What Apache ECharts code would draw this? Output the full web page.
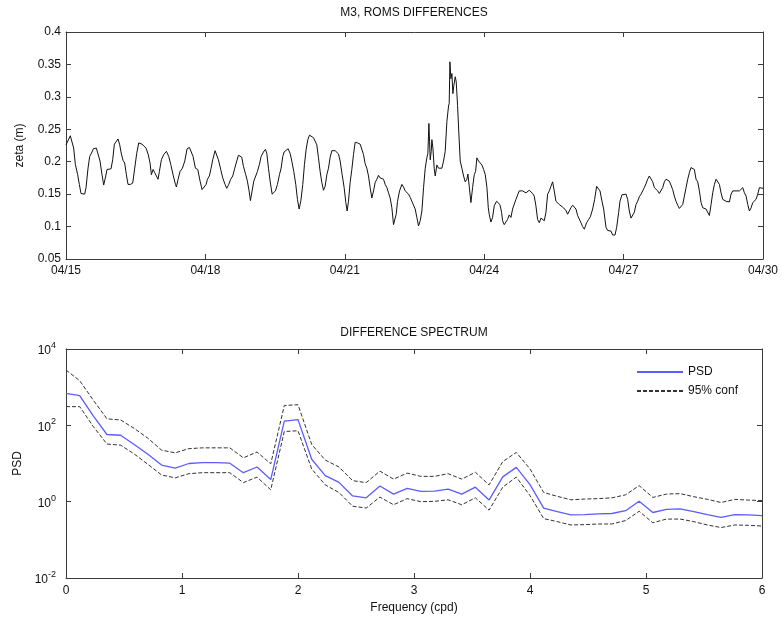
<!DOCTYPE html>
<html><head><meta charset="utf-8">
<script src="https://cdn.jsdelivr.net/npm/echarts@6/dist/echarts.min.js"></script>
<style>html,body{margin:0;padding:0;background:#fff}#c{width:782px;height:623px}</style>
</head><body><div id="c"></div>
<script>
const dateLabels = ['04/15','04/18','04/21','04/24','04/27','04/30'];
const freqTicks = [0,1,2,3,4,5,6];

const zetaDays = [
0.000,0.093,0.165,0.201,0.251,0.287,0.323,0.366,0.402,0.431,0.474,0.510,0.560,0.589,0.625,0.653,0.689,0.732,0.775,0.811,0.847,0.883,0.919,0.969,
1.005,1.041,1.084,1.120,1.156,1.192,1.228,1.263,1.299,1.335,1.385,1.436,1.479,1.522,1.565,1.608,1.637,1.673,1.723,1.766,1.809,1.838,1.874,1.910,1.945,1.981,
2.010,2.053,2.103,2.161,2.211,2.254,2.304,2.355,2.376,2.412,2.455,2.505,2.556,2.606,2.656,2.699,2.735,2.785,2.836,2.886,2.929,2.972,
3.015,3.044,3.086,3.122,3.158,3.208,3.244,3.280,3.330,3.373,3.423,3.459,3.502,3.545,3.588,3.632,3.675,3.711,3.746,3.782,3.818,3.868,3.904,3.940,3.969,
4.005,4.041,4.084,4.120,4.163,4.199,4.249,4.292,4.321,4.357,4.393,4.436,4.464,4.507,4.550,4.594,4.629,4.665,4.694,4.737,4.780,4.823,4.859,4.902,4.945,4.981,
5.017,5.053,5.096,5.132,5.168,5.204,5.240,5.276,5.326,5.362,5.398,5.433,5.469,5.505,5.541,5.577,5.613,5.649,5.685,5.721,5.757,5.793,5.828,5.864,5.900,5.943,5.986,
6.022,6.051,6.079,6.115,6.151,6.187,6.223,6.273,6.331,6.367,6.403,6.438,6.474,6.510,6.546,6.582,6.618,6.654,6.690,6.726,6.761,6.797,6.833,6.869,6.905,6.941,6.977,
7.013,7.049,7.070,7.106,7.135,7.178,7.228,7.264,7.300,7.336,7.372,7.408,7.443,7.479,7.515,7.551,7.587,7.623,7.659,7.695,7.731,7.766,7.788,7.810,7.824,7.838,7.860,7.874,7.896,7.924,7.946,7.982,
8.018,8.054,8.090,8.125,8.161,8.197,8.233,8.247,8.262,8.283,8.305,8.326,8.348,8.377,8.398,8.427,8.456,8.484,8.520,8.556,8.592,8.628,8.649,8.678,8.714,8.750,8.786,8.815,8.843,8.879,8.915,8.951,8.987,
9.023,9.059,9.088,9.108,9.144,9.180,9.216,9.266,9.309,9.338,9.374,9.396,9.431,9.467,9.503,9.539,9.575,9.611,9.647,9.683,9.719,9.754,9.790,9.826,9.862,9.898,9.934,9.970,
10.006,10.042,10.077,10.113,10.149,10.185,10.221,10.257,10.293,10.329,10.365,10.401,10.436,10.472,10.508,10.544,10.580,10.616,10.652,10.688,10.724,10.759,10.795,10.831,10.867,10.903,10.939,10.975,
11.011,11.047,11.082,11.118,11.154,11.176,11.205,11.248,11.284,11.334,11.377,11.420,11.456,11.492,11.535,11.571,11.621,11.657,11.693,11.729,11.764,11.815,11.851,11.894,11.922,11.965,
12.001,12.052,12.087,12.123,12.159,12.195,12.231,12.267,12.303,12.339,12.375,12.410,12.446,12.482,12.518,12.554,12.590,12.626,12.662,12.698,12.734,12.769,12.805,12.841,12.877,12.913,12.949,12.985,
13.021,13.057,13.092,13.128,13.164,13.200,13.236,13.272,13.308,13.344,13.380,13.415,13.451,13.487,13.523,13.559,13.595,13.631,13.667,13.703,13.739,13.774,13.810,13.846,13.882,13.918,13.954,13.990,
14.026,14.062,14.097,14.133,14.169,14.205,14.241,14.277,14.313,14.349,14.385,14.420,14.456,14.492,14.528,14.564,14.600,14.636,14.672,14.708,14.744,14.780,14.815,14.851,14.887,14.923,14.959,15.000
];
const zetaValues = [
0.226,0.240,0.221,0.196,0.180,0.165,0.151,0.148,0.150,0.160,0.190,0.208,0.215,0.220,0.217,0.221,0.212,0.201,0.180,0.164,0.175,0.188,0.190,0.189,
0.203,0.227,0.230,0.235,0.226,0.212,0.202,0.198,0.180,0.165,0.165,0.167,0.190,0.213,0.229,0.226,0.227,0.230,0.221,0.212,0.198,0.180,0.188,0.183,0.180,0.173,
0.185,0.203,0.211,0.216,0.208,0.196,0.180,0.165,0.161,0.173,0.185,0.190,0.201,0.220,0.222,0.225,0.208,0.190,0.188,0.170,0.157,0.155,
0.165,0.173,0.178,0.190,0.203,0.217,0.215,0.203,0.188,0.175,0.165,0.159,0.165,0.173,0.178,0.190,0.201,0.210,0.208,0.207,0.193,0.180,0.170,0.155,0.140,
0.155,0.170,0.171,0.185,0.196,0.208,0.215,0.219,0.213,0.190,0.170,0.150,0.148,0.155,0.165,0.180,0.190,0.208,0.215,0.216,0.220,0.213,0.201,0.185,0.165,0.142,
0.127,0.139,0.165,0.196,0.219,0.234,0.241,0.240,0.237,0.236,0.226,0.206,0.185,0.168,0.156,0.162,0.180,0.190,0.207,0.217,0.219,0.217,0.220,0.212,0.201,0.180,0.160,
0.137,0.124,0.139,0.168,0.188,0.211,0.230,0.229,0.227,0.225,0.211,0.197,0.190,0.178,0.160,0.144,0.155,0.168,0.173,0.179,0.175,0.177,0.173,0.165,0.160,0.152,0.144,
0.129,0.103,0.100,0.119,0.139,0.155,0.165,0.161,0.155,0.152,0.150,0.145,0.139,0.137,0.127,0.114,0.101,0.109,0.124,0.160,0.190,0.206,0.213,0.259,0.231,0.203,0.216,0.234,0.221,0.190,0.178,0.195,
0.190,0.188,0.190,0.201,0.216,0.262,0.286,0.290,0.354,0.328,0.336,0.305,0.318,0.331,0.323,0.287,0.241,0.201,0.190,0.178,0.169,0.173,0.181,0.162,0.137,0.160,0.180,0.185,0.206,0.201,0.201,0.195,0.188,
0.180,0.160,0.129,0.119,0.107,0.114,0.132,0.139,0.140,0.134,0.122,0.109,0.103,0.106,0.111,0.118,0.114,0.127,0.129,0.142,0.140,0.155,0.157,0.155,0.156,0.152,0.154,0.156,
0.157,0.151,0.147,0.132,0.111,0.106,0.113,0.110,0.109,0.122,0.150,0.155,0.162,0.169,0.155,0.139,0.137,0.134,0.135,0.130,0.127,0.125,0.119,0.117,0.129,0.133,0.132,0.127,
0.117,0.114,0.106,0.100,0.096,0.093,0.106,0.111,0.115,0.127,0.142,0.162,0.165,0.155,0.139,0.127,0.099,0.094,0.096,0.093,0.087,0.087,0.099,0.122,0.139,0.149,
0.152,0.150,0.142,0.124,0.113,0.111,0.122,0.134,0.139,0.146,0.150,0.155,0.160,0.166,0.173,0.178,0.176,0.169,0.160,0.157,0.155,0.151,0.154,0.160,0.169,0.173,0.173,0.170,
0.168,0.157,0.147,0.139,0.133,0.128,0.127,0.134,0.147,0.160,0.173,0.183,0.191,0.194,0.188,0.173,0.169,0.155,0.137,0.129,0.130,0.127,0.124,0.117,0.134,0.152,0.165,0.173,
0.174,0.165,0.152,0.142,0.139,0.139,0.137,0.138,0.150,0.155,0.157,0.155,0.156,0.155,0.157,0.160,0.152,0.147,0.134,0.124,0.129,0.137,0.139,0.142,0.150,0.160,0.161,0.159
];

const freq = [0,0.118,0.235,0.353,0.471,0.588,0.706,0.824,0.941,1.059,1.176,1.294,1.412,1.529,1.647,1.765,1.882,2.0,2.118,2.235,2.353,2.471,2.588,2.706,2.824,2.941,3.059,3.176,3.294,3.412,3.529,3.647,3.765,3.882,4.0,4.118,4.235,4.353,4.471,4.588,4.706,4.824,4.941,5.059,5.176,5.294,5.412,5.529,5.647,5.765,5.882,6.0];
const psd = [692,603,178,57.5,55,31.6,17.4,9.1,7.6,10.0,10.5,10.5,10.2,5.75,8.1,3.8,129,141,12.9,4.8,3.2,1.41,1.26,2.57,1.58,2.24,1.86,1.9,2.14,1.58,2.4,1.1,4.47,7.9,2.8,0.68,0.55,0.45,0.46,0.48,0.49,0.58,1.02,0.52,0.63,0.65,0.55,0.46,0.39,0.46,0.45,0.43];
const confUpper = [2820,1480,457,148,138,83,46,22.4,19,24.5,25.7,25.7,25.7,14.1,20,9.8,331,347,31.6,12.3,8.1,3.55,3.16,6.3,3.9,5.6,4.6,4.6,5.4,3.9,5.9,2.75,11.2,19.5,7.2,1.74,1.38,1.12,1.17,1.2,1.26,1.51,2.63,1.29,1.58,1.62,1.35,1.15,0.95,1.15,1.1,1.07];
const confLower = [309,309,93,32.4,30.2,17.8,9.5,5.0,4.2,5.4,5.75,5.75,5.75,3.16,4.4,2.04,69,72,7.2,2.75,1.74,0.76,0.68,1.32,0.83,1.2,1.0,1.02,1.12,0.83,1.26,0.6,2.4,4.4,1.45,0.36,0.30,0.245,0.25,0.26,0.26,0.32,0.56,0.28,0.35,0.35,0.30,0.245,0.21,0.245,0.24,0.23];

const FONT = "'Liberation Sans', Arial, Helvetica, sans-serif";
const TXT = '#111';
const FRAME = '#3c3c3c';
const lineAx = {show:true, onZero:false, lineStyle:{color:FRAME, width:1}};
const tickAx = {show:true, inside:true, length:5, lineStyle:{color:FRAME, width:1}};
const lbl = {color:TXT, fontSize:12, fontFamily:FONT};

const chart = echarts.init(document.getElementById('c'), null, {renderer:'canvas'});
chart.setOption({
  animation:false,
  backgroundColor:'#fff',
  grid:[
    {left:66, top:32, width:697, height:227, containLabel:false},
    {left:66, top:349, width:696, height:229, containLabel:false}
  ],
  graphic:[
    {type:'text', x:414, y:7, style:{text:'M3, ROMS DIFFERENCES', textAlign:'center', textVerticalAlign:'top', font:'12px '+FONT, fill:TXT}},
    {type:'text', x:414, y:327, style:{text:'DIFFERENCE SPECTRUM', textAlign:'center', textVerticalAlign:'top', font:'12px '+FONT, fill:TXT}}
  ],
  legend:{
    data:['PSD','95% conf'], orient:'vertical', left:631, top:361,
    itemWidth:46, itemHeight:14, itemGap:7,
    itemStyle:{opacity:0, borderWidth:0},
    textStyle:{color:TXT, fontSize:12, fontFamily:FONT}
  },
  xAxis:[
    {type:'value', gridIndex:0, min:0, max:15, interval:3, position:'bottom',
     axisLine:lineAx, axisTick:tickAx, splitLine:{show:false},
     axisLabel:Object.assign({margin:6, formatter:v=>dateLabels[Math.round(v/3)]}, lbl)},
    {type:'value', gridIndex:0, min:0, max:15, interval:3, position:'top',
     axisLine:lineAx, axisTick:tickAx, splitLine:{show:false}, axisLabel:{show:false}},
    {type:'value', gridIndex:1, min:0, max:6, interval:1, position:'bottom',
     name:'Frequency (cpd)', nameLocation:'middle', nameGap:24, nameTextStyle:lbl,
     axisLine:lineAx, axisTick:tickAx, splitLine:{show:false},
     axisLabel:Object.assign({margin:7, formatter:v=>String(freqTicks[Math.round(v)])}, lbl)},
    {type:'value', gridIndex:1, min:0, max:6, interval:1, position:'top',
     axisLine:lineAx, axisTick:tickAx, splitLine:{show:false}, axisLabel:{show:false}}
  ],
  yAxis:[
    {type:'value', gridIndex:0, min:0.05, max:0.4, interval:0.05, position:'left',
     name:'zeta (m)', nameLocation:'middle', nameGap:40, nameTextStyle:lbl,
     axisLine:lineAx, axisTick:tickAx, splitLine:{show:false},
     axisLabel:Object.assign({margin:5, formatter:v=>String(+v.toFixed(2))}, lbl)},
    {type:'value', gridIndex:0, min:0.05, max:0.4, interval:0.05, position:'right',
     axisLine:lineAx, axisTick:tickAx, splitLine:{show:false}, axisLabel:{show:false}},
    {type:'log', logBase:10, gridIndex:1, min:0.01, max:10000, interval:2, splitNumber:3, position:'left',
     name:'PSD', nameLocation:'middle', nameGap:40, nameTextStyle:lbl,
     axisLine:lineAx, axisTick:tickAx, splitLine:{show:false}, minorTick:{show:false},
     axisLabel:{margin:10, color:TXT, fontFamily:FONT,
       formatter:v=>'{b|10}{s|'+Math.round(Math.log10(v))+'}',
       rich:{b:{fontSize:12, fontFamily:FONT, color:TXT, verticalAlign:'bottom', lineHeight:16},
             s:{fontSize:9, fontFamily:FONT, color:TXT, verticalAlign:'top', lineHeight:10}}}},
    {type:'log', logBase:10, gridIndex:1, min:0.01, max:10000, interval:2, splitNumber:3, position:'right',
     axisLine:lineAx, axisTick:tickAx, splitLine:{show:false}, axisLabel:{show:false}}
  ],
  series:[
    {type:'line', xAxisIndex:0, yAxisIndex:0, symbol:'none', showSymbol:false,
     data:zetaDays.map((d,i)=>[d, zetaValues[i]]),
     lineStyle:{color:'#111', width:1}, color:'#111'},
    {name:'95% conf', type:'line', xAxisIndex:2, yAxisIndex:2, symbol:'none',
     data:freq.map((f,i)=>[f, confUpper[i]]),
     lineStyle:{color:'#333', width:1, type:[4,2]}, color:'#333'},
    {name:'95% conf', type:'line', xAxisIndex:2, yAxisIndex:2, symbol:'none',
     data:freq.map((f,i)=>[f, confLower[i]]),
     lineStyle:{color:'#333', width:1, type:[4,2]}, color:'#333'},
    {name:'PSD', type:'line', xAxisIndex:2, yAxisIndex:2, symbol:'none',
     data:freq.map((f,i)=>[f, psd[i]]),
     lineStyle:{color:'#5c5cff', width:1.3}, color:'#5c5cff'}
  ]
});
</script></body></html>
